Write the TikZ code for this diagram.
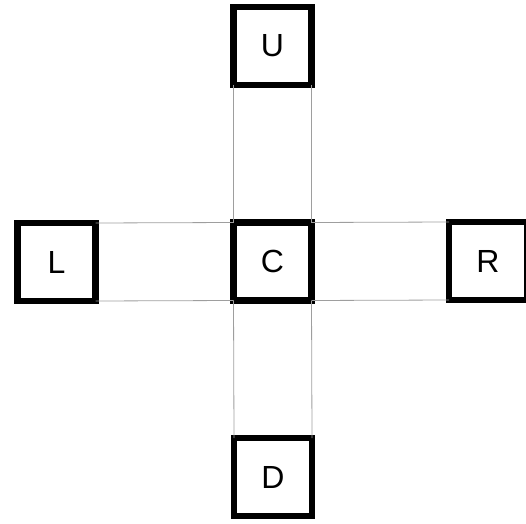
\documentclass[tikz,border=0pt]{standalone}
\usepackage{fontspec}
\setmainfont{Liberation Sans}
\begin{document}
\begin{tikzpicture}[x=1pt,y=1pt,
  box/.style={draw=black,fill=white,line width=6.5pt,minimum size=78pt,inner sep=0pt,outer sep=0pt,font=\fontsize{32}{34}\selectfont},
  thin/.style={draw=black!38,line width=0.8pt}]
\useasboundingbox (0,0) rectangle (526,523);
\node[box] (U) at (272.5,477) {U};
\node[box] (C) at (272.5,261.5) {C};
\node[box] (L) at (56.5,261) {L};
\node[box] (R) at (488,262) {R};
\node[box] (D) at (273,46) {D};
\draw[thin] (U.south west) -- (C.north west);
\draw[thin] (U.south east) -- (C.north east);
\draw[thin] (C.south west) -- (D.north west);
\draw[thin] (C.south east) -- (D.north east);
\draw[thin] (L.north east) -- (C.north west);
\draw[thin] (L.south east) -- (C.south west);
\draw[thin] (C.north east) -- (R.north west);
\draw[thin] (C.south east) -- (R.south west);
\end{tikzpicture}
\end{document}
